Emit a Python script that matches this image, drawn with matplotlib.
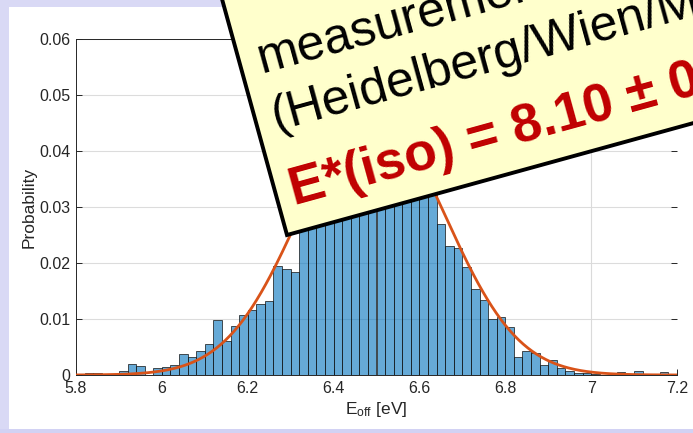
import numpy as np
import matplotlib
matplotlib.use("Agg")
import matplotlib.pyplot as plt
from matplotlib.patches import Polygon, Rectangle

plt.rcParams['font.family'] = ['Liberation Sans', 'DejaVu Sans']
plt.rcParams['mathtext.fontset'] = 'custom'
plt.rcParams['mathtext.rm'] = 'Liberation Sans'
plt.rcParams['mathtext.it'] = 'Liberation Sans:italic'

# ---- histogram data: probability per 0.02 eV bin, 5.80 ... 7.18 eV ----
bin_start = 5.8
bin_width = 0.02
probability = [
    0.0000, 0.0003, 0.0003, 0.0000, 0.0000,   # 5.80 - 5.88
    0.0007, 0.0019, 0.0016, 0.0000, 0.0012,   # 5.90 - 5.98
    0.0014, 0.0018, 0.0038, 0.0032, 0.0042,   # 6.00 - 6.08
    0.0056, 0.0098, 0.0060, 0.0088, 0.0107,   # 6.10 - 6.18
    0.0116, 0.0127, 0.0133, 0.0194, 0.0189,   # 6.20 - 6.28
    0.0184, 0.0310, 0.0350, 0.0370, 0.0410,   # 6.30 - 6.38
    0.0430, 0.0460, 0.0470, 0.0490, 0.0480,   # 6.40 - 6.48
    0.0490, 0.0470, 0.0450, 0.0430, 0.0400,   # 6.50 - 6.58
    0.0380, 0.0350, 0.0269, 0.0231, 0.0227,   # 6.60 - 6.68
    0.0193, 0.0154, 0.0134, 0.0100, 0.0104,   # 6.70 - 6.78
    0.0085, 0.0032, 0.0042, 0.0039, 0.0018,   # 6.80 - 6.88
    0.0026, 0.0012, 0.0008, 0.0004, 0.0003,   # 6.90 - 6.98
    0.0002, 0.0000, 0.0000, 0.0005, 0.0000,   # 7.00 - 7.08
    0.0008, 0.0000, 0.0000, 0.0005, 0.0000,   # 7.10 - 7.18
]

# Gaussian fit to the distribution
fit_mu = 6.49
fit_sigma = 0.17

x_ticks = [5.8, 6.0, 6.2, 6.4, 6.6, 6.8, 7.0, 7.2]
x_tick_labels = ['5.8', '6', '6.2', '6.4', '6.6', '6.8', '7', '7.2']
y_ticks = [0, 0.01, 0.02, 0.03, 0.04, 0.05, 0.06]
y_tick_labels = ['0', '0.01', '0.02', '0.03', '0.04', '0.05', '0.06']

note_lines = ['measurement', '(Heidelberg/Wien/Mainz)']
note_result = 'E*(iso) = 8.10 \u00b1 0.17 eV'

W, H = 693, 433
fig = plt.figure(figsize=(W / 100, H / 100), dpi=100)
fig.patch.set_facecolor('#d9d9f5')

# white slide panel behind the chart
bg = fig.add_axes([0, 0, 1, 1], zorder=-1)
bg.set_xlim(0, W)
bg.set_ylim(H, 0)
bg.axis('off')
bg.add_patch(Rectangle((9, 7), W, H - 7 - 4, facecolor='white', edgecolor='none'))
bg.add_patch(Rectangle((0, H - 4), W, 4, facecolor='#d2d2f4', edgecolor='none'))

ax = fig.add_axes([76 / W, 58 / H, 601 / W, 336 / H], zorder=1)
ax.set_facecolor('white')

edges = bin_start + bin_width * np.arange(len(probability))
ax.bar(edges, probability, width=bin_width, align='edge',
       facecolor=(0.0, 0.447, 0.741, 0.6), edgecolor=(0.08, 0.08, 0.08, 0.85),
       linewidth=0.6, zorder=2)

xf = np.linspace(5.8, 7.2, 400)
yf = bin_width / (fit_sigma * np.sqrt(2 * np.pi)) * np.exp(-0.5 * ((xf - fit_mu) / fit_sigma) ** 2)
ax.plot(xf, yf, color='#D95319', linewidth=2.0, zorder=3, solid_capstyle='butt')

ax.axvline(7.0, color='#dadada', linewidth=0.8, zorder=1)

ax.set_xlim(5.8, 7.2)
ax.set_ylim(0, 0.06)
ax.set_xticks(x_ticks)
ax.set_xticklabels(x_tick_labels)
ax.set_yticks(y_ticks)
ax.set_yticklabels(y_tick_labels)
ax.yaxis.grid(True, color='#dcdcdc', linewidth=0.8, zorder=1)
ax.set_axisbelow(True)

ax.tick_params(axis='both', direction='in', length=4.5, width=0.7, color='#262626',
               labelsize=11.5, labelcolor='#262626', pad=4)
ax.tick_params(axis='y', right=True)
for side in ['left', 'top', 'bottom']:
    ax.spines[side].set_color('#262626')
    ax.spines[side].set_linewidth(0.7)
ax.spines['right'].set_visible(False)

ax.set_ylabel('Probability', fontsize=12.5, color='#262626', labelpad=2)
ax.set_xlabel(r'E$_{\mathrm{off}}$ [eV]', fontsize=12.5, color='#262626', labelpad=3)

# rotated note card drawn over the chart, in pixel coordinates
ov = fig.add_axes([0, 0, 1, 1], zorder=2)
ov.set_xlim(0, W)
ov.set_ylim(H, 0)
ov.axis('off')

angle = 15.4
th = np.deg2rad(angle)
u = np.array([np.cos(th), -np.sin(th)])
v = np.array([-np.sin(th), -np.cos(th)])
corner = np.array([287.0, 235.0])
card_w, card_h = 900.0, 500.0
pts = [corner, corner + card_w * u, corner + card_w * u + card_h * v, corner + card_h * v]
ov.add_patch(Polygon(pts, closed=True, facecolor='#ffffcc', edgecolor='black',
                     linewidth=2.8, joinstyle='miter', zorder=5))


def place(a, b):
    p = corner + a * u + b * v
    return p[0], p[1]


x0, y0 = place(19, 163)
ov.text(x0, y0, note_lines[0], fontsize=36, color='black', rotation=angle,
        rotation_mode='anchor', ha='left', va='baseline', zorder=6)
x1, y1 = place(17, 104)
ov.text(x1, y1, note_lines[1], fontsize=36, color='black', rotation=angle,
        rotation_mode='anchor', ha='left', va='baseline', zorder=6)
x2, y2 = place(15, 27)
ov.text(x2, y2, note_result, fontsize=38.5, color='#c00000', fontweight='bold',
        rotation=angle, rotation_mode='anchor', ha='left', va='baseline', zorder=6)

fig.savefig('out.png', dpi=100, facecolor=fig.get_facecolor())
